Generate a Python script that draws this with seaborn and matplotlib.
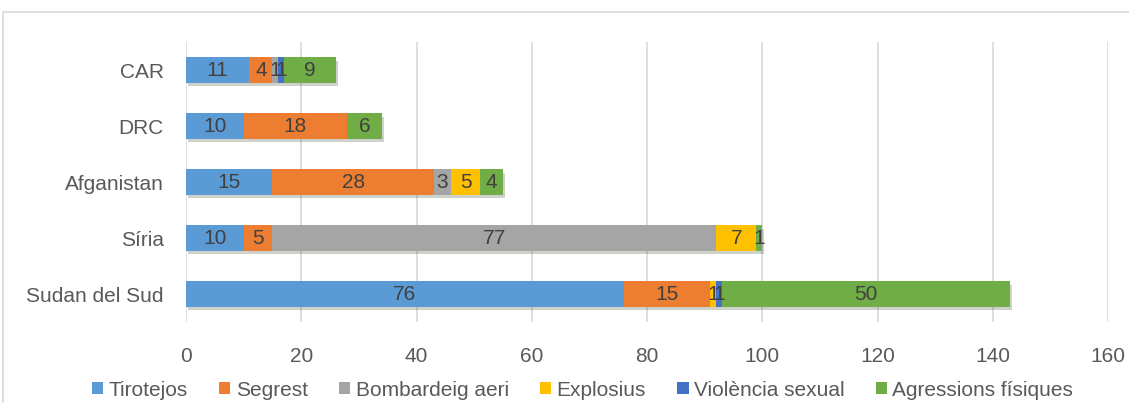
import matplotlib
matplotlib.use("Agg")
import matplotlib.pyplot as plt
import matplotlib.patheffects as pe
from matplotlib.patches import Patch, Rectangle
import numpy as np
import pandas as pd
import seaborn as sns

categories = ["CAR", "DRC", "Afganistan", "Síria", "Sudan del Sud"]
series_names = ["Tirotejos", "Segrest", "Bombardeig aeri", "Explosius",
                "Violència sexual", "Agressions físiques"]
tirotejos = [11, 10, 15, 10, 76]
segrest = [4, 18, 28, 5, 15]
bombardeig = [1, 0, 3, 77, 0]
explosius = [0, 0, 5, 7, 1]
violencia = [1, 0, 0, 0, 1]
agressions = [9, 6, 4, 1, 50]
colors = ["#5B9BD5", "#ED7D31", "#A5A5A5", "#FFC000", "#4472C4", "#70AD47"]
xticks = [0, 20, 40, 60, 80, 100, 120, 140, 160]

values = [tirotejos, segrest, bombardeig, explosius, violencia, agressions]

sns.set_theme(style="white")
plt.rcParams["font.family"] = ["Liberation Sans", "DejaVu Sans"]

fig = plt.figure(figsize=(11.29, 4.03), dpi=100)
ax = fig.add_axes([186 / 1129, 1 - 322 / 403, (1108 - 186) / 1129, (322 - 42) / 403])

# border of the chart area
fig.patches.append(Rectangle((3 / 1129, -0.2), 1.2, 1.2 - 12 / 403,
                             transform=fig.transFigure, fill=False,
                             edgecolor="#D9D9D9", lw=1.2, zorder=0))

vals = np.array(values, dtype=float)
cum = np.cumsum(vals, axis=0)

n_cat = len(categories)
for i in range(len(series_names) - 1, -1, -1):
    df = pd.DataFrame({"cat": categories, "val": cum[i]})
    sns.barplot(data=df, x="val", y="cat", orient="h", color=colors[i],
                width=0.45, ax=ax, saturation=1, order=categories,
                edgecolor="none", linewidth=0, zorder=3)
# soft shadow only under the full bar outline
for p in ax.patches[:n_cat]:
    p.set_path_effects([pe.SimplePatchShadow(offset=(1.5, -2.5), alpha=0.22),
                        pe.Normal()])

for i in range(len(series_names)):
    left = cum[i] - vals[i]
    for j, v in enumerate(vals[i]):
        if v > 0:
            ax.text(left[j] + v / 2, j, f"{int(v)}", ha="center", va="center",
                    fontsize=15, color="#404040", zorder=5)

ax.set_xlim(0, 160)
ax.set_ylim(4.5, -0.5)
ax.set_xticks(xticks)
ax.set_xticklabels([str(t) for t in xticks])
ax.grid(axis="x", color="#D9D9D9", lw=1.2, zorder=0)
ax.set_axisbelow(True)
for s in ax.spines.values():
    s.set_visible(False)
ax.set_xlabel("")
ax.set_ylabel("")
ax.tick_params(axis="x", length=0, pad=18, labelsize=15, labelcolor="#595959")
ax.tick_params(axis="y", length=0, pad=16, labelsize=15, labelcolor="#595959")

handles = [Patch(facecolor=c, edgecolor="none") for c in colors]
fig.legend(handles, series_names, loc="center", ncol=6,
           bbox_to_anchor=(0.516, 1 - 390 / 403), frameon=False,
           fontsize=15, labelcolor="#595959", handlelength=0.55,
           handleheight=0.55, handletextpad=0.25, columnspacing=1.5)

fig.savefig("out.png", dpi=100)
